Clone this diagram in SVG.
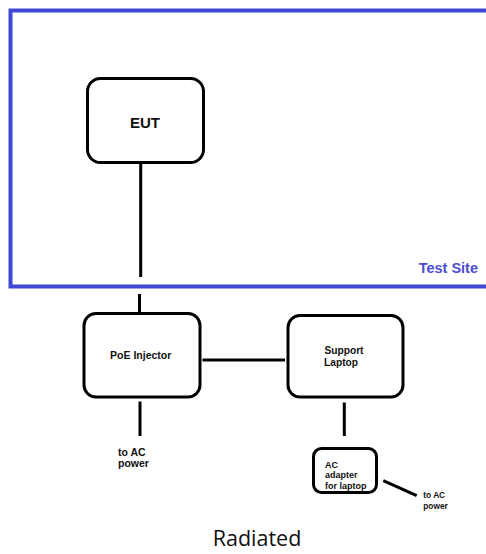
<svg xmlns="http://www.w3.org/2000/svg" width="486" height="554" viewBox="0 0 486 554">
<style>
.box{fill:#fff;stroke:#000;stroke-width:3}
.ln{stroke:#000;stroke-width:3;fill:none}
.lbl{font-family:"Liberation Sans",Arial,sans-serif;font-weight:bold;fill:#111}
</style>
<rect width="486" height="554" fill="#fff"/>
<g id="test-site">
<rect x="10.5" y="10.5" width="490" height="276" fill="none" stroke="#3f48d4" stroke-width="4"/>
<text x="478" y="272.5" text-anchor="end" class="lbl" font-size="14.5" style="fill:#4a4ed0">Test Site</text>
</g>
<g id="connectors">
<line class="ln" x1="140.7" y1="163" x2="140.7" y2="277"/>
<line class="ln" x1="139.5" y1="294" x2="139.5" y2="313"/>
<line class="ln" x1="202.5" y1="360" x2="285" y2="360"/>
<line class="ln" x1="140" y1="401.5" x2="140" y2="436"/>
<line class="ln" x1="344.3" y1="402.5" x2="344.3" y2="436"/>
<line class="ln" x1="383.3" y1="480.7" x2="416.7" y2="495.7"/>
</g>
<g id="eut">
<rect class="box" x="87.5" y="78.5" width="116" height="84" rx="13"/>
<text x="145" y="127.7" text-anchor="middle" class="lbl" font-size="15">EUT</text>
</g>
<g id="poe-injector">
<rect class="box" x="84" y="313.5" width="116" height="83.5" rx="12"/>
<text x="140.7" y="359" text-anchor="middle" class="lbl" font-size="10.5">PoE Injector</text>
</g>
<g id="support-laptop">
<rect class="box" x="288" y="315.5" width="115" height="81.5" rx="12"/>
<text x="344" y="354" text-anchor="middle" class="lbl" font-size="10.2">Support</text>
<text x="341" y="366" text-anchor="middle" class="lbl" font-size="10.2">Laptop</text>
</g>
<g id="ac-adapter">
<rect class="box" x="313.5" y="448.5" width="63" height="44" rx="8"/>
<text x="325" y="468.3" class="lbl" font-size="9">AC</text>
<text x="325" y="478" class="lbl" font-size="9">adapter</text>
<text x="325" y="488.5" class="lbl" font-size="9">for laptop</text>
</g>
<g id="poe-power-label">
<text x="118" y="456" class="lbl" font-size="10.5">to AC</text>
<text x="118" y="467" class="lbl" font-size="10.5">power</text>
</g>
<g id="adapter-power-label">
<text x="423.3" y="498" class="lbl" font-size="8.3">to AC</text>
<text x="423.3" y="509" class="lbl" font-size="8.3">power</text>
</g>
<text x="257" y="546" text-anchor="middle" font-family="'Open Sans','Liberation Sans',sans-serif" font-size="21.5" fill="#111">Radiated</text>
</svg>
